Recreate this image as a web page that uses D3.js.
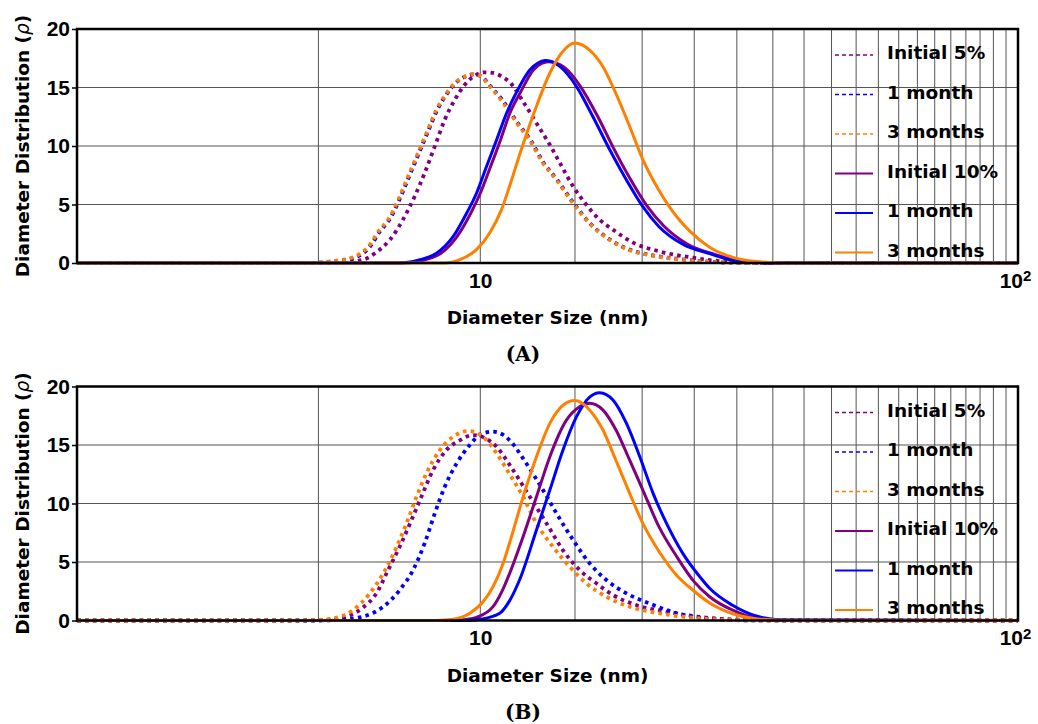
<!DOCTYPE html>
<html lang="en">
<head>
<meta charset="UTF-8">
<title>Diameter Distribution</title>
<script src="https://d3js.org/d3.v7.min.js"></script>
<style>
    body { margin: 0; background: #fff; }
    svg { display: block; font-family: "DejaVu Sans", sans-serif; }
    .axis text { font-weight: bold; font-size: 21px; fill: #000; }
    .axis line { stroke: #000; stroke-width: 1.5px; }
    .grid line { stroke: #555; stroke-width: 1px; }
    .axis-title { font-weight: bold; font-size: 18.5px; fill: #000; }
    .legend text { font-weight: bold; font-size: 18.5px; fill: #000; }
    .caption { font-family: "DejaVu Serif", serif; font-weight: bold; font-size: 20px; }
    .curve { fill: none; }
</style>
</head>
<body>
<svg width="1038" height="724"></svg>
<script>
    // legend / styling per series (same order in both panels)
    const legendLabels = ["Initial 5%", "1 month", "3 months", "Initial 10%", "1 month", "3 months"];
    const seriesColors = ["#800080", "#0000ff", "#ff8000", "#800080", "#0000ff", "#ff8000"];
    const seriesDotted = [true, true, true, false, false, false];
    const yTicks = [0, 5, 10, 15, 20];
    const xTicks = [10, 100];
    const gridX = [5, 10, 15, 20, 25, 30, 35, 40, 45, 50, 55, 60, 65, 70, 75, 80, 85, 90, 95];
    const gridY = [5, 10, 15];

    // Panel A: [diameter nm, distribution]
    const aInit5 = [[1.78,0],[5.2,0],[5.6,0.08],[6.05,0.28],[6.4,0.9],[6.79,1.99],[7.18,3.7],[7.55,5.69],[7.88,7.69],[8.23,9.97],[8.59,12.25],[8.97,13.96],[9.36,15.24],[9.84,16.1],[10.19,16.3],[10.55,16.25],[10.95,15.95],[11.4,15.35],[12.01,13.8],[12.9,11.5],[13.47,10.1],[14.06,8.55],[14.88,6.55],[15.75,4.98],[16.67,3.7],[17.65,2.85],[19.2,1.76],[21.5,1.0],[24.9,0.45],[28,0.15],[32,0.03],[38,0],[100,0]];
    const aMonth1_5 = [[1.78,0],[4.8,0],[5.3,0.13],[5.85,0.47],[6.22,1.35],[6.53,2.8],[6.77,3.68],[7.07,5.4],[7.37,7.38],[7.69,9.4],[7.97,11.1],[8.32,13.1],[8.68,14.5],[9.06,15.5],[9.46,16.0],[9.74,16.12],[10.04,15.95],[10.45,15.1],[11.0,13.9],[11.72,12.0],[12.4,10.5],[13.12,8.55],[13.9,7.1],[14.92,5.1],[16.0,3.39],[17.45,1.97],[19.0,1.12],[20.65,0.7],[23.3,0.35],[26.8,0.1],[30,0.02],[35,0],[100,0]];
    const aMonth3_5 = [[1.78,0],[4.8,0],[5.3,0.15],[5.8,0.49],[6.19,1.39],[6.5,2.84],[6.74,3.7],[7.04,5.41],[7.34,7.4],[7.66,9.4],[7.94,11.1],[8.29,13.1],[8.65,14.5],[9.03,15.5],[9.43,16.0],[9.7,16.15],[10.0,16.0],[10.41,15.1],[10.95,13.9],[11.68,12.0],[12.36,10.5],[13.08,8.55],[13.86,7.1],[14.88,5.1],[15.97,3.39],[17.41,1.97],[18.96,1.1],[20.6,0.68],[23.2,0.33],[26.7,0.1],[30,0.02],[35,0],[100,0]];
    const aInit10 = [[1.78,0],[7.2,0],[7.6,0.08],[7.9,0.28],[8.45,0.83],[9.05,2.25],[9.6,4.25],[10.0,5.96],[10.45,8.24],[10.9,10.5],[11.35,12.8],[11.85,14.5],[12.55,16.5],[13.0,17.05],[13.37,17.2],[13.8,17.1],[14.3,16.75],[15.35,15.1],[16.5,12.6],[17.7,9.8],[19.0,7.2],[20.4,4.9],[21.9,3.2],[24.2,1.65],[27.2,0.75],[31,0.12],[35,0.01],[100,0]];
    const aMonth1_10 = [[1.78,0],[7.0,0],[7.4,0.08],[7.72,0.28],[8.29,0.83],[8.9,2.25],[9.43,4.25],[9.84,5.96],[10.27,8.24],[10.72,10.5],[11.19,12.8],[11.68,14.6],[12.36,16.5],[12.8,17.1],[13.18,17.3],[13.6,17.2],[14.06,16.8],[15.09,15.1],[16.2,12.5],[17.41,9.68],[18.7,7.1],[20.06,4.81],[21.5,3.1],[23.8,1.6],[26.7,0.8],[30.3,0.12],[34,0.01],[100,0]];
    const aMonth3_10 = [[1.78,0],[8.6,0],[9.16,0.28],[9.84,1.14],[10.41,2.56],[10.95,4.56],[11.38,6.8],[11.9,9.6],[12.72,13.4],[13.47,16.24],[14.25,18.1],[14.98,18.8],[15.97,18.2],[16.9,16.8],[17.87,14.5],[18.96,11.67],[20.06,8.83],[21.5,6.2],[23.2,3.95],[24.5,2.75],[26.7,1.35],[29.4,0.5],[32.6,0.12],[37,0],[100,0]];

    // Panel B
    const bInit5 = [[1.78,0],[4.7,0],[5.2,0.05],[5.7,0.4],[6.05,1.1],[6.41,2.32],[6.74,4.32],[7.08,6.3],[7.45,8.59],[7.77,10.58],[8.17,12.86],[8.65,14.57],[9.16,15.4],[9.7,15.85],[10.2,15.6],[10.75,14.8],[11.34,13.3],[12.36,10.58],[13.28,8.3],[14.25,6.0],[15.3,4.32],[16.44,3.18],[17.65,2.18],[19.5,1.32],[22.2,0.75],[26.0,0.27],[31,0.05],[37,0],[100,0]];
    const bMonth1_5 = [[1.78,0],[5.0,0],[5.5,0.08],[6.05,0.33],[6.6,1.18],[7.08,2.6],[7.5,4.32],[7.88,6.6],[8.23,9.16],[8.59,11.44],[9.03,13.4],[9.56,15.0],[10.0,15.9],[10.56,16.14],[11.0,15.9],[11.34,15.4],[12.19,13.4],[13.08,11.15],[13.86,9.16],[14.88,6.88],[15.97,4.89],[17.16,3.46],[18.7,2.32],[20.6,1.47],[23.2,0.62],[26.7,0.15],[31,0.02],[100,0]];
    const bMonth3_5 = [[1.78,0],[4.5,0],[4.9,0.04],[5.25,0.13],[5.8,0.9],[6.23,2.32],[6.6,4.03],[6.99,6.3],[7.29,8.3],[7.61,10.58],[7.94,12.58],[8.41,14.57],[8.9,15.7],[9.49,16.2],[10.12,15.7],[10.72,14.3],[11.34,12.5],[12.01,10.58],[12.72,8.3],[13.65,6.3],[14.66,4.6],[15.75,3.18],[17.16,2.03],[18.96,1.18],[21.5,0.62],[25.6,0.19],[30,0.03],[36,0],[100,0]];
    const bInit10 = [[1.78,0],[9.0,0],[9.4,0.08],[9.84,0.27],[10.56,1.18],[11.0,2.6],[11.34,4.03],[12.01,7.16],[12.72,10.58],[13.47,14.0],[14.45,17.1],[15.3,18.27],[15.97,18.56],[16.9,18.0],[17.87,16.3],[18.96,13.7],[20.06,11.15],[21.5,8.0],[23.2,5.45],[25.0,3.3],[26.7,2.03],[29.4,0.9],[32.6,0.19],[36,0.03],[100,0]];
    const bMonth1_10 = [[1.78,0],[9.4,0],[10.0,0.1],[10.87,0.62],[11.34,1.7],[11.84,3.5],[12.72,7.73],[13.47,11.15],[14.25,14.57],[15.09,17.4],[15.97,19.1],[16.67,19.47],[17.65,18.85],[18.7,16.85],[19.8,14.0],[20.96,10.87],[22.2,8.3],[23.8,5.74],[25.6,3.74],[26.7,2.75],[29.4,1.32],[32.6,0.38],[36.6,0.04],[100,0]];
    const bMonth3_10 = [[1.78,0],[8.3,0],[8.9,0.1],[9.56,0.62],[10.12,1.6],[10.56,2.89],[11.03,4.89],[11.4,7.0],[12.0,10.5],[12.72,14.0],[13.47,16.85],[14.25,18.4],[14.98,18.8],[15.97,18.0],[16.9,16.3],[17.87,13.7],[18.96,10.87],[20.06,8.3],[21.5,5.9],[23.2,3.85],[25.0,2.5],[26.7,1.5],[29.4,0.6],[32.6,0.15],[37,0],[100,0]];

    const panels = [
        {caption: "(A)", top: 29, series: [aInit5, aMonth1_5, aMonth3_5, aInit10, aMonth1_10, aMonth3_10]},
        {caption: "(B)", top: 386.5, series: [bInit5, bMonth1_5, bMonth3_5, bInit10, bMonth1_10, bMonth3_10]}
    ];

    const svg = d3.select("svg");
    const left = 77, right = 1018, plotH = 234;

    const x = d3.scaleLog().domain([Math.pow(10, 0.25), 100]).range([left, right]);

    panels.forEach(p => {
        const y = d3.scaleLinear().domain([0, 20]).range([p.top + plotH, p.top]);
        const g = svg.append("g");

        // grid
        const grid = g.append("g").attr("class", "grid");
        grid.selectAll(".gx").data(gridX).join("line")
            .attr("x1", d => x(d)).attr("x2", d => x(d))
            .attr("y1", p.top).attr("y2", p.top + plotH);
        grid.selectAll(".gy").data(gridY).join("line")
            .attr("class", "gy")
            .attr("x1", left).attr("x2", right)
            .attr("y1", d => y(d)).attr("y2", d => y(d));

        // curves
        const line = d3.line()
            .x(d => x(d[0]))
            .y(d => y(d[1]))
            .curve(d3.curveMonotoneX);

        p.series.forEach((s, i) => {
            g.append("path")
                .datum(s)
                .attr("class", "curve")
                .attr("stroke", seriesColors[i])
                .attr("stroke-width", seriesDotted[i] ? 3.8 : 3)
                .attr("stroke-dasharray", seriesDotted[i] ? "3.6,4.2" : null)
                .attr("d", line);
        });

        // frame
        g.append("rect")
            .attr("x", left).attr("y", p.top)
            .attr("width", right - left).attr("height", plotH)
            .attr("fill", "none").attr("stroke", "#000").attr("stroke-width", 2.5);

        // axes
        const yAxis = g.append("g")
            .attr("class", "axis")
            .attr("transform", `translate(${left},0)`)
            .call(d3.axisLeft(y).tickValues(yTicks).tickSize(5).tickPadding(2));
        yAxis.select(".domain").remove();

        const xAxis = g.append("g")
            .attr("class", "axis")
            .attr("transform", `translate(0,${p.top + plotH})`)
            .call(d3.axisBottom(x).tickValues(xTicks).tickSize(0).tickPadding(10).tickFormat(() => ""));
        xAxis.select(".domain").remove();
        xAxis.selectAll(".tick text").each(function(d) {
            const t = d3.select(this).attr("dy", "0.71em");
            if (d === 100) {
                t.append("tspan").text("10");
                t.append("tspan").attr("dy", "-0.45em").style("font-size", "15px").text("2");
                t.attr("dx", "-3px");
            } else {
                t.text("10");
            }
        });

        // axis titles
        g.append("text")
            .attr("class", "axis-title")
            .attr("x", (left + right) / 2)
            .attr("y", p.top + plotH + 61)
            .attr("text-anchor", "middle")
            .text("Diameter Size (nm)");

        const yt = g.append("text")
            .attr("class", "axis-title")
            .attr("transform", `translate(29,${p.top + plotH / 2}) rotate(-90)`)
            .attr("text-anchor", "middle");
        yt.append("tspan").text("Diameter Distribution (");
        yt.append("tspan").style("font-style", "italic").style("font-weight", "normal").text("ρ");
        yt.append("tspan").text(")");

        // legend
        const legend = g.append("g").attr("class", "legend");
        legendLabels.forEach((lab, i) => {
            const ly = p.top + 24 + i * 39.5;
            legend.append("line")
                .attr("x1", 835).attr("x2", 873)
                .attr("y1", ly + 2).attr("y2", ly + 2)
                .attr("stroke", seriesColors[i])
                .attr("stroke-width", seriesDotted[i] ? 1.6 : 2)
                .attr("stroke-dasharray", seriesDotted[i] ? "4,3" : null);
            legend.append("text")
                .attr("x", 887).attr("y", ly)
                .attr("dy", "0.35em")
                .text(lab);
        });

        // caption
        svg.append("text")
            .attr("class", "caption")
            .attr("x", 523)
            .attr("y", p.top + plotH + 98)
            .attr("text-anchor", "middle")
            .text(p.caption);
    });
</script>
</body>
</html>
